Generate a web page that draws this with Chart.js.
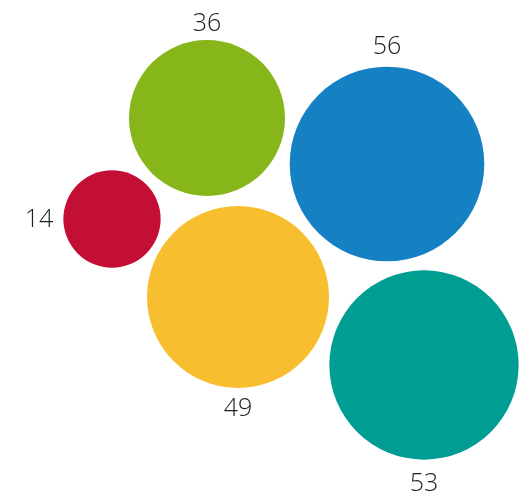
<!DOCTYPE html>
<html><head><meta charset="utf-8">
<script src="https://cdn.jsdelivr.net/npm/chart.js@4/dist/chart.umd.min.js"></script>
<style>html,body{margin:0;padding:0;background:#fff}#wrap{width:530px;height:493px}</style>
</head><body><div id="wrap"><canvas id="c" width="530" height="493"></canvas></div>
<script>
const categories = ["Green", "Blue", "Red", "Yellow", "Teal"];
const values = [36, 56, 14, 49, 53];
const xPos = [207, 387, 112, 238, 424];
const yPos = [118, 164, 219, 297, 365];
const labelSide = ["top", "top", "left", "bottom", "bottom"];
const labelGap = [18, 22, 10, 19, 22];
const colors = ["#86B61A", "#1581C3", "#C30E36", "#F7BF30", "#009D93"];
const radiusScale = 13;

class FlatBubble extends Chart.BubbleController {
  getMaxOverflow() { return 0; }
}
FlatBubble.id = "flatbubble";
FlatBubble.defaults = Chart.BubbleController.defaults;
FlatBubble.overrides = Chart.BubbleController.overrides;
Chart.register(FlatBubble);

const labelPlugin = {
  id: "labels",
  afterDatasetsDraw(chart) {
    const ctx = chart.ctx;
    const meta = chart.getDatasetMeta(0);
    ctx.save();
    ctx.font = "300 25px 'Open Sans', Lato, sans-serif";
    ctx.fillStyle = "#1e1e1e";
    ctx.textBaseline = "middle";
    const dy = 2;
    meta.data.forEach((el, i) => {
      const r = radiusScale * Math.sqrt(values[i]);
      const side = labelSide[i];
      const g = labelGap[i];
      let x = el.x, y = el.y;
      if (side === "top") { ctx.textAlign = "center"; y = el.y - r - g; }
      else if (side === "bottom") { ctx.textAlign = "center"; y = el.y + r + g; }
      else { ctx.textAlign = "right"; x = el.x - r - g; y = el.y - 1; }
      ctx.fillText(String(values[i]), x, y + dy);
    });
    ctx.restore();
  }
};

new Chart(document.getElementById("c"), {
  type: "flatbubble",
  data: {
    labels: categories,
    datasets: [{
      data: values.map((v, i) => ({ x: xPos[i], y: yPos[i], v })),
      backgroundColor: colors,
      borderWidth: 0,
      hoverBorderWidth: 0,
      clip: false,
      radius: (ctx) => ctx.raw ? radiusScale * Math.sqrt(ctx.raw.v) : 0
    }]
  },
  options: {
    responsive: false,
    animation: false,
    layout: { padding: 0 },
    plugins: { legend: { display: false }, tooltip: { enabled: false } },
    scales: {
      x: { type: "linear", min: 0, max: 530, display: false },
      y: { type: "linear", min: 0, max: 493, reverse: true, display: false }
    }
  },
  plugins: [labelPlugin]
});
</script></body></html>
